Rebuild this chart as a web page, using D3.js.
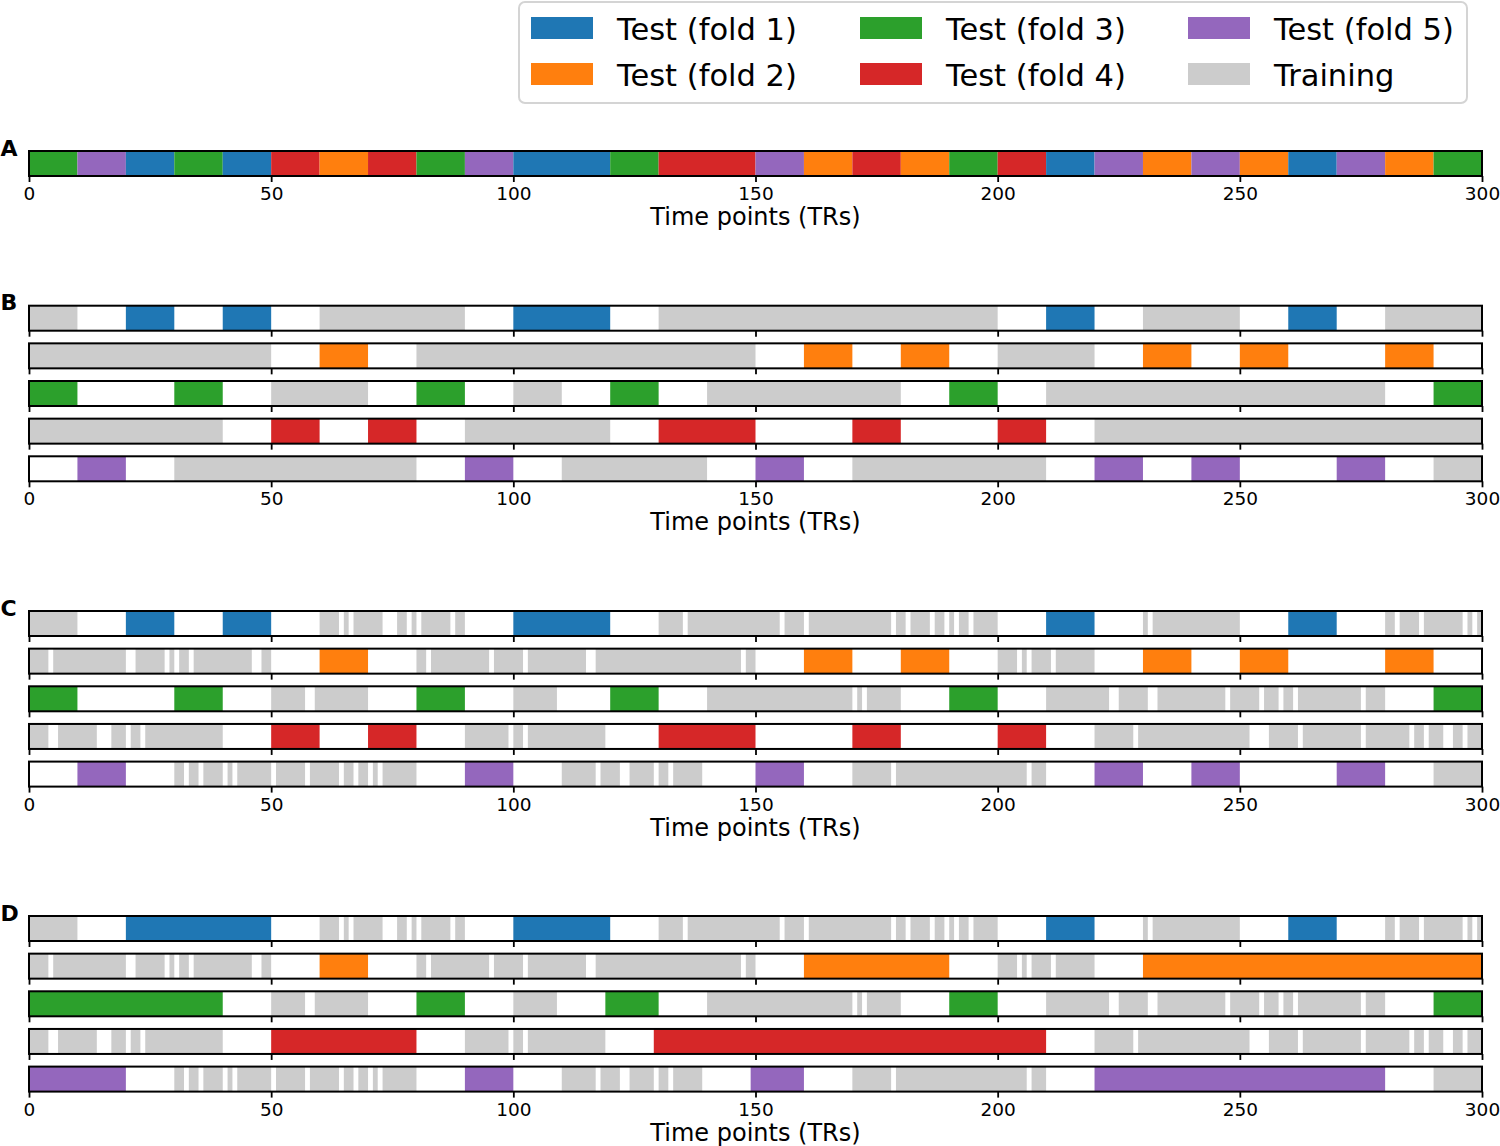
<!DOCTYPE html>
<html><head><meta charset="utf-8">
<script src="https://cdn.jsdelivr.net/npm/d3@7"></script>
<style>
body{margin:0;background:#fff}
svg{display:block}
text{font-family:"DejaVu Sans",sans-serif;fill:#000}
</style>
</head><body>
<svg id="chart" width="1500" height="1146"></svg>
<script>
// ---------------- DATA ----------------
const xTicks = [0, 50, 100, 150, 200, 250, 300];
const axisTitle = "Time points (TRs)";
const foldLabels = ["Test (fold 1)", "Test (fold 2)", "Test (fold 3)", "Test (fold 4)", "Test (fold 5)"];
const trainingLabel = "Training";
const foldColors = ["#1f77b4", "#ff7f0e", "#2ca02c", "#d62728", "#9467bd"];
const trainingColor = "#cccccc";

// Panel A: [start, end, fold]
const panelA = [[0,10,3],[10,20,5],[20,30,1],[30,40,3],[40,50,1],[50,60,4],[60,70,2],[70,80,4],
  [80,90,3],[90,100,5],[100,120,1],[120,130,3],[130,150,4],[150,160,5],[160,170,2],[170,180,4],
  [180,190,2],[190,200,3],[200,210,4],[210,220,1],[220,230,5],[230,240,2],[240,250,5],[250,260,2],
  [260,270,1],[270,280,5],[280,290,2],[290,300,3]];

// Panel B: per fold, training spans and test spans
const panelB_train = [
  [[0,10],[60,90],[130,200],[230,250],[280,300]],
  [[0,50],[80,150],[200,220]],
  [[50,70],[100,110],[140,180],[210,280]],
  [[0,40],[90,120],[220,300]],
  [[30,80],[110,140],[170,210],[290,300]]
];
const panelB_test = [
  [[20,30],[40,50],[100,120],[210,220],[260,270]],
  [[60,70],[160,170],[180,190],[230,240],[250,260],[280,290]],
  [[0,10],[30,40],[80,90],[120,130],[190,200],[290,300]],
  [[50,60],[70,80],[130,150],[170,180],[200,210]],
  [[10,20],[90,100],[150,160],[220,230],[240,250],[270,280]]
];

// Panel C: training spans with excluded time points removed
const panelC_train = [
  [[0,10],[60,64],[65,66],[67,73],[76,78],[79,80],[81,87],[88,90],[130,135],[136,155],[156,160],
   [161,178],[179,181],[182,186],[187,189],[190,191],[192,194],[195,200],[230,231],[232,250],
   [280,282],[283,287],[288,296],[297,298],[299,300]],
  [[0,4],[5,20],[22,28],[29,30],[31,33],[34,46],[48,50],[80,82],[83,95],[96,102],[103,115],
   [117,147],[148,150],[200,204],[205,206],[207,211],[212,220]],
  [[50,57],[59,70],[100,109],[140,170],[171,172],[173,180],[210,223],[225,231],[233,247],
   [248,254],[255,258],[259,261],[262,275],[276,280]],
  [[0,4],[6,14],[17,20],[21,23],[24,40],[90,99],[100,102],[103,119],[220,228],[229,252],
   [256,262],[263,275],[276,285],[286,288],[289,292],[294,296],[297,300]],
  [[30,32],[33,35],[36,40],[41,42],[43,50],[51,57],[58,64],[65,67],[68,70],[71,72],[73,80],
   [110,117],[118,122],[124,129],[130,132],[133,139],[170,178],[179,206],[207,210],[290,300]]
];
const panelC_test = [
  [[20,30],[40,50],[100,120],[210,220],[260,270]],
  [[60,70],[160,170],[180,190],[230,240],[250,260],[280,290]],
  [[0,10],[30,40],[80,90],[120,130],[190,200],[290,300]],
  [[50,60],[70,80],[130,150],[170,180],[200,210]],
  [[10,20],[90,100],[150,160],[220,230],[240,250],[270,280]]
];

// Panel D: same training spans as C, merged test spans
const panelD_train = panelC_train;
const panelD_test = [
  [[20,50],[100,120],[210,220],[260,270]],
  [[60,70],[160,190],[230,300]],
  [[0,40],[80,90],[119,130],[190,200],[290,300]],
  [[50,80],[129,210]],
  [[0,20],[90,100],[149,160],[220,280]]
];

// ---------------- DRAW ----------------
const svg = d3.select("#chart");
const x = d3.scaleLinear().domain([0, 300]).range([29, 1482]);
const rowH = 25;
const rowPitch = 37.65;

function foldRows(train, test) {
  return train.map((tr, i) => [
    ...tr.map(d => ({s: d[0], e: d[1], c: trainingColor})),
    ...test[i].map(d => ({s: d[0], e: d[1], c: foldColors[i]}))
  ]);
}

const panels = [
  {letter: "A", top: 151, rows: [panelA.map(d => ({s: d[0], e: d[1], c: foldColors[d[2] - 1]}))]},
  {letter: "B", top: 305.7, rows: foldRows(panelB_train, panelB_test)},
  {letter: "C", top: 611, rows: foldRows(panelC_train, panelC_test)},
  {letter: "D", top: 916, rows: foldRows(panelD_train, panelD_test)}
];

panels.forEach(p => {
  const g = svg.append("g");
  g.append("text")
    .attr("x", 0.5).attr("y", p.top + 4.5)
    .style("font-size", "22px").style("font-weight", "bold")
    .text(p.letter);

  p.rows.forEach((segs, i) => {
    const y0 = p.top + i * rowPitch;
    const rg = g.append("g");
    rg.selectAll("rect.seg").data(segs).enter().append("rect")
      .attr("class", "seg")
      .attr("x", d => x(d.s))
      .attr("width", d => x(d.e) - x(d.s))
      .attr("y", y0).attr("height", rowH)
      .attr("fill", d => d.c);
    rg.append("rect")
      .attr("x", x(0)).attr("y", y0)
      .attr("width", x(300) - x(0)).attr("height", rowH)
      .attr("fill", "none").attr("stroke", "#000").attr("stroke-width", 2);

    const last = i === p.rows.length - 1;
    const axis = d3.axisBottom(x).tickValues(xTicks).tickSize(6).tickPadding(5)
      .tickFormat(last ? d3.format("d") : () => "");
    const ag = rg.append("g").attr("transform", `translate(0,${y0 + rowH})`).call(axis);
    ag.select(".domain").remove();
    ag.selectAll(".tick line").attr("stroke", "#000").attr("stroke-width", 1.8);
    ag.selectAll(".tick text").style("font-size", "18.5px").attr("fill", "#000")
      .style("font-family", "DejaVu Sans, sans-serif");
    if (last) {
      rg.append("text")
        .attr("x", (x(0) + x(300)) / 2).attr("y", y0 + rowH + 49)
        .attr("text-anchor", "middle").style("font-size", "24px")
        .text(axisTitle);
    }
  });
});

// Legend
const legendItems = [
  {label: foldLabels[0], c: foldColors[0]},
  {label: foldLabels[1], c: foldColors[1]},
  {label: foldLabels[2], c: foldColors[2]},
  {label: foldLabels[3], c: foldColors[3]},
  {label: foldLabels[4], c: foldColors[4]},
  {label: trainingLabel, c: trainingColor}
];
const lg = svg.append("g");
lg.append("rect")
  .attr("x", 519).attr("y", 2).attr("width", 948).attr("height", 101)
  .attr("rx", 6).attr("fill", "#fff").attr("stroke", "#d4d4d4").attr("stroke-width", 2);
const colX = [531, 860, 1188];
const rowY = [17, 63];
legendItems.forEach((d, i) => {
  const col = Math.floor(i / 2), row = i % 2;
  lg.append("rect")
    .attr("x", colX[col]).attr("y", rowY[row])
    .attr("width", 62).attr("height", 22)
    .attr("fill", d.c);
  lg.append("text")
    .attr("x", colX[col] + 86).attr("y", rowY[row] + 22.5)
    .style("font-size", "30.5px")
    .text(d.label);
});
</script>
</body></html>
